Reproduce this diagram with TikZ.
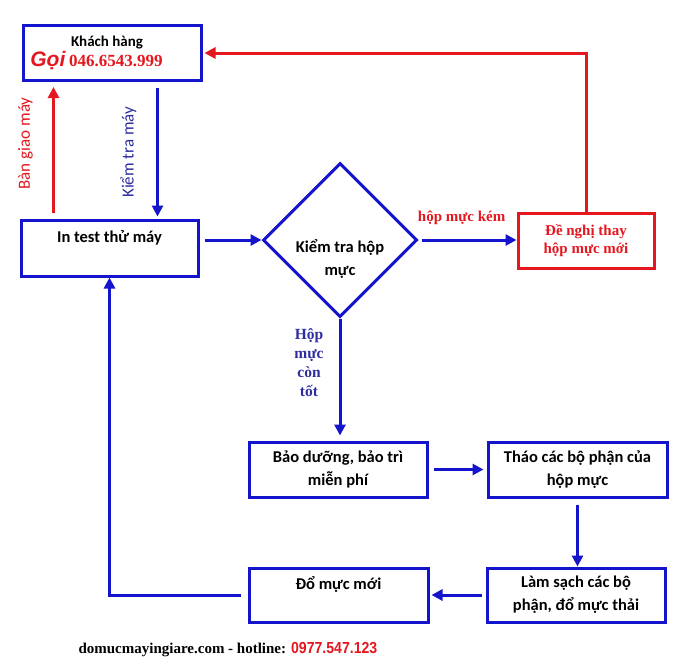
\documentclass[tikz,border=0pt]{standalone}
\usepackage{fontspec,graphicx}
\setmainfont{Carlito}
\newfontfamily\timesfont{Liberation Serif}
\newfontfamily\arialfont{Liberation Sans}
\usetikzlibrary{shapes.geometric,arrows.meta}
\definecolor{xanh}{RGB}{20,20,205}
\definecolor{do}{RGB}{228,22,30}
\definecolor{xanhchu}{RGB}{45,45,160}

\begin{document}
\begin{tikzpicture}[x=1pt,y=-1pt,
  box style/.style={draw=xanh,line width=3pt,minimum width=178pt,minimum height=55pt,inner sep=0pt,align=center,font=\bfseries\fontsize{16.5}{23}\selectfont},
  line style/.style={draw=xanh,line width=3pt},
  arrow style/.style={line style,-{Triangle[length=11pt,width=11pt]}},
  red arrow/.style={arrow style,draw=do},
  label style/.style={align=center,text=xanhchu,font=\timesfont\bfseries\fontsize{15.5}{19}\selectfont}]
    \useasboundingbox (0,0) rectangle (700,664);
    % cac hop
    \node[box style] (kh) at (112,53) {{\fontsize{15}{15}\selectfont Khách hàng}\hspace*{10pt}\\[-3pt]{\color{do}\arialfont\itshape\fontsize{21}{21}\selectfont Gọi} {\color{do}\timesfont\bfseries\fontsize{17}{17}\selectfont 046.6543.999}\hspace*{31pt}};
    \node[box style,minimum width=177pt,minimum height=56pt] (test) at (109.5,248) {In test thử máy\\\mbox{}};
    \node[diamond,draw=xanh,line width=3pt,minimum width=154pt,minimum height=154pt,inner sep=0pt] (kt) at (340,240) {};
    \node[align=center,font=\bfseries\fontsize{16.5}{23}\selectfont] (ktchu) at (340,258.5) {Kiểm tra hộp\\mực};
    \node[box style,draw=do,minimum width=136pt,text=do,font=\timesfont\bfseries\fontsize{15}{18}\selectfont] (dn) at (586,240.5) {Đề nghị thay\\hộp mực mới};
    \node[box style] (bd) at (338,469.5) {Bảo dưỡng, bảo trì\\miễn phí};
    \node[box style,minimum width=179pt] (th) at (577.5,469.5) {Tháo các bộ phận của\\hộp mực};
    \node[box style,minimum height=54pt] (ls) at (576,595) {Làm sạch các bộ\\phận, đổ mực thải};
    \node[box style,minimum width=179pt,minimum height=54pt] (dm) at (338.5,595) {Đổ mực mới\\\mbox{}};
    % cac mui ten
    \draw[red arrow] ([xshift=34pt,yshift=6pt]test.north west) -- ([xshift=32pt,yshift=-5pt]kh.south west)
        node[pos=0.55,xshift=-28pt,rotate=90,text=do,font=\fontsize{17}{17}\selectfont] {Bàn giao máy};
    \draw[arrow style] ([xshift=136pt,yshift=-6pt]kh.south west) -- ([xshift=138pt,yshift=2pt]test.north west)
        node[pos=0.5,xshift=-29pt,rotate=90,text=xanhchu,font=\fontsize{17}{17}\selectfont] {Kiểm tra máy};
    \draw[arrow style,shorten <=5pt] (test.east |- kt.west) -- (kt.west);
    \draw[arrow style,shorten <=3pt] (kt.east) -- (kt.east -| dn.west)
        node[pos=0.44,yshift=22pt,text=do,font=\timesfont\bfseries\fontsize{15}{15}\selectfont] {hộp mực kém};
    \draw[red arrow,shorten >=2pt] (dn.north) |- (kh.east);
    \draw[arrow style,shorten >=5pt] (kt.south) -- (kt.south |- bd.north)
        node[label style,pos=0.36,xshift=-31pt] {Hộp\\mực\\còn\\tốt};
    \draw[arrow style,shorten <=5pt,shorten >=3pt] (bd.east) -- (th.west);
    \draw[arrow style,shorten <=6pt] (th.south) -- (th.south |- ls.north);
    \draw[arrow style,shorten <=4pt,shorten >=2pt] (ls.west) -- (ls.west -| dm.east);
    \draw[arrow style,shorten <=7pt] (dm.west) -| (test.south);
    % dong cuoi
    \node[anchor=west,font=\timesfont\bfseries\fontsize{15}{15}\selectfont] (chan) at (75,650) {domucmayingiare.com - hotline: {\color{do}\arialfont\bfseries\fontsize{16}{16}\selectfont\scalebox{0.88}[1]{0977.547.123}}};
\end{tikzpicture}
\end{document}
